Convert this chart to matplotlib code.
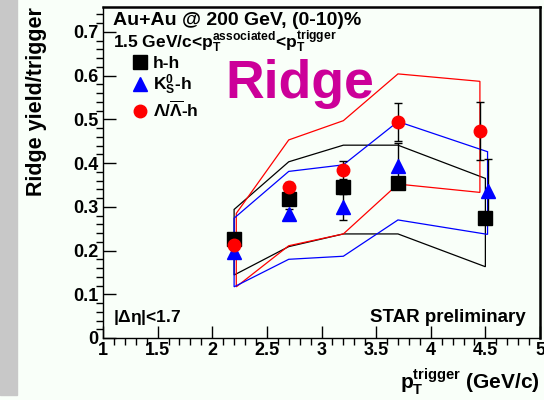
import matplotlib.pyplot as plt
from matplotlib.patches import Rectangle
from matplotlib.lines import Line2D

plt.rcParams["font.family"] = ["Liberation Sans", "DejaVu Sans"]
plt.rcParams["font.weight"] = "bold"
plt.rcParams["axes.labelweight"] = "bold"
plt.rcParams["mathtext.fontset"] = "custom"
plt.rcParams["mathtext.rm"] = "Liberation Sans:bold"
plt.rcParams["mathtext.it"] = "Liberation Sans:bold"
plt.rcParams["mathtext.bf"] = "Liberation Sans:bold"

# data points (ridge yield per trigger)
pt_hh = [2.2, 2.7, 3.2, 3.7, 4.5]
yield_hh = [0.227, 0.318, 0.346, 0.354, 0.274]
err_hh = [0.008, 0.010, 0.012, 0.012, 0.012]

pt_k0 = [2.2, 2.7, 3.2, 3.7, 4.52]
yield_k0 = [0.197, 0.284, 0.299, 0.394, 0.336]
err_k0 = [0.008, 0.010, 0.030, 0.053, 0.073]

pt_lam = [2.2, 2.7, 3.2, 3.7, 4.45]
yield_lam = [0.213, 0.346, 0.384, 0.494, 0.474]
err_lam = [0.008, 0.010, 0.021, 0.043, 0.066]

# systematic bands
band_x_hh = [2.2, 2.7, 3.2, 3.7, 4.5]
band_hi_hh = [0.294, 0.403, 0.441, 0.441, 0.365]
band_lo_hh = [0.144, 0.209, 0.238, 0.238, 0.163]

band_x_k0 = [2.2, 2.7, 3.2, 3.7, 4.52]
band_hi_k0 = [0.274, 0.381, 0.396, 0.495, 0.426]
band_lo_k0 = [0.117, 0.180, 0.187, 0.270, 0.237]

band_x_lam = [2.22, 2.7, 3.2, 3.7, 4.45]
band_hi_lam = [0.285, 0.453, 0.497, 0.604, 0.587]
band_lo_lam = [0.117, 0.211, 0.238, 0.352, 0.333]

xticks = [1, 1.5, 2, 2.5, 3, 3.5, 4, 4.5, 5]
xlabels = ["1", "1.5", "2", "2.5", "3", "3.5", "4", "4.5", "5"]
yticks = [0, 0.1, 0.2, 0.3, 0.4, 0.5, 0.6, 0.7]
ylabels = ["0", "0.1", "0.2", "0.3", "0.4", "0.5", "0.6", "0.7"]

bg = "#f9fff9"
fig = plt.figure(figsize=(5.44, 4.0), dpi=100, facecolor=bg)
fig.patches.append(Rectangle((0, 5 / 400), 17 / 544, 1, transform=fig.transFigure,
                             color="#c8c8c8", zorder=-1))
ax = fig.add_axes([103 / 544, 62 / 400, 437 / 544, 331 / 400], facecolor=bg)

for bx, hi, lo, col in [(band_x_hh, band_hi_hh, band_lo_hh, "black"),
                        (band_x_lam, band_hi_lam, band_lo_lam, "red"),
                        (band_x_k0, band_hi_k0, band_lo_k0, "blue")]:
    ax.fill(bx + bx[::-1], hi + lo[::-1], fill=False, edgecolor=col, lw=0.9, zorder=2)

for x, y, e in [(pt_hh, yield_hh, err_hh), (pt_k0, yield_k0, err_k0), (pt_lam, yield_lam, err_lam)]:
    ax.errorbar(x, y, yerr=e, fmt="none", ecolor="black", elinewidth=1, capsize=3, zorder=3)

ax.plot(pt_hh, yield_hh, "s", color="black", ms=10, ls="none", zorder=4)
ax.plot(pt_k0, yield_k0, "^", color="blue", ms=10, ls="none", zorder=4)
ax.plot(pt_lam, yield_lam, "o", color="red", ms=9, ls="none", zorder=5)

handles = [Line2D([], [], marker="s", color="black", ms=10, ls="none"),
           Line2D([], [], marker="^", color="blue", ms=10, ls="none"),
           Line2D([], [], marker="o", color="red", ms=9, ls="none")]
labels = ["h-h", r"K$_\mathrm{S}^\mathrm{0}$-h", r"$\Lambda/\overline{\Lambda}$-h"]
ax.legend(handles, labels, loc="upper left", bbox_to_anchor=(0.064, 0.853), frameon=False,
          fontsize=12.5, handlelength=1.0, handletextpad=0.25, labelspacing=0.12,
          borderaxespad=0, borderpad=0)

ax.set_xlim(1, 5)
ax.set_ylim(0, 0.757)
ax.set_xticks(xticks, xlabels)
ax.set_yticks(yticks, ylabels)
ax.set_xticks([1 + 0.1 * i for i in range(41)], minor=True)
ax.set_yticks([0.02 * i for i in range(38)], minor=True)
ax.tick_params(direction="in", labelsize=13, pad=3)
ax.tick_params(which="major", length=9, width=1)
ax.tick_params(which="minor", length=5, width=1)
for side in ["top", "right"]:
    ax.spines[side].set_linewidth(1.8)
for side in ["left", "bottom"]:
    ax.spines[side].set_linewidth(1.0)

ax.set_ylabel("Ridge yield/trigger", fontsize=15.5, loc="top", labelpad=19)
ax.set_xlabel(r"$\mathrm{p}_\mathrm{T}^\mathrm{trigger}$ (GeV/c)", fontsize=15, loc="right", labelpad=5)

ax.text(0.022, 0.946, "Au+Au @ 200 GeV, (0-10)%", transform=ax.transAxes, fontsize=14,
        va="baseline")
ax.text(0.022, 0.876, r"1.5 GeV/c<$\mathrm{p}_\mathrm{T}^\mathrm{associated}$<$\mathrm{p}_\mathrm{T}^\mathrm{trigger}$",
        transform=ax.transAxes, fontsize=12.5, va="baseline")
ax.text(0.281, 0.725, "Ridge", transform=ax.transAxes, fontsize=38.5, color="#cc0099",
        va="baseline")
ax.text(0.022, 0.048, r"|$\Delta\eta$|<1.7", transform=ax.transAxes, fontsize=12.5, va="baseline")
ax.text(0.966, 0.048, "STAR preliminary", transform=ax.transAxes, fontsize=13.5,
        va="baseline", ha="right")

fig.savefig("out.png", dpi=100, facecolor=bg)
